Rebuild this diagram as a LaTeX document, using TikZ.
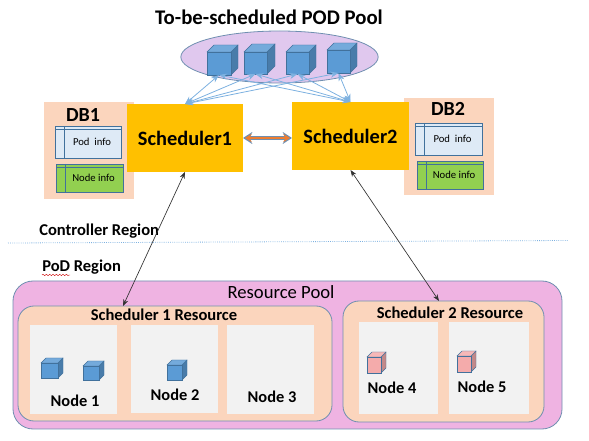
\documentclass[tikz,border=0pt]{standalone}
\usepackage{fontspec}
\setmainfont{Carlito}
\usepackage{tikz}
\usetikzlibrary{positioning,arrows.meta,calc,decorations.pathmorphing,shapes.geometric}
\definecolor{amber}{HTML}{FFC000}
\definecolor{peach}{HTML}{FBD5BD}
\definecolor{orchid}{HTML}{EFB3E2}
\definecolor{lilac}{HTML}{E0C8EE}
\definecolor{cubeblue}{HTML}{5B9BD5}
\definecolor{cubepink}{HTML}{F4ABAB}
\definecolor{paleblue}{HTML}{DEEAF6}
\definecolor{leaf}{HTML}{92D050}
\definecolor{slate}{HTML}{6F8FB0}
\definecolor{edgeblue}{HTML}{41719C}
\definecolor{linkblue}{HTML}{7DB1E0}
\definecolor{tray}{HTML}{F2F2F2}
\definecolor{linkorange}{HTML}{ED7D31}

\tikzset{
  lbl/.style={inner sep=0pt, font=\fontsize{#1}{#1}\selectfont\bfseries},
  boxat/.style={draw=none, inner sep=0pt, outer sep=0pt},
  table box/.style={draw=edgeblue, line width=0.6pt},
  podlink/.style={linkblue, line width=0.6pt, {Stealth[length=6pt]}-{Stealth[length=6pt]}},
  ctllink/.style={black!80, line width=0.5pt, {Stealth[length=5pt]}-{Stealth[length=5pt]}},
}

% box given by its two corners in pixels
\newcommand{\pxbox}[6]{\node[boxat, #6, anchor=north west, minimum width=#4 pt*0.75-#2 pt*0.75, minimum height=#5 pt*0.75-#3 pt*0.75] (#1) at (#2,#3) {};}
% cube: name, left, top of front, right, bottom, depth, colour
\newcommand{\podcube}[7]{
  \fill[#7!80!black, draw=edgeblue, line width=0.3pt] (#4,#3) -- ++(#6,-#6) -- ++(0,#5-#3) -- (#4,#5) -- cycle;
  \fill[#7!85!white, draw=edgeblue, line width=0.3pt] (#2,#3) -- ++(#6,-#6) -- ++(#4-#2,0) -- (#4,#3) -- cycle;
  \pxbox{#1}{#2}{#3}{#4}{#5}{fill=#7, draw=edgeblue, line width=0.5pt}
}
% table with a header row and a side column
\newcommand{\infotable}[7]{
  \pxbox{#1}{#2}{#3}{#4}{#5}{fill=#6, table box}
  \draw[edgeblue, line width=0.5pt] (#2+9,#3) -- (#2+9,#5);
  \draw[edgeblue, line width=0.5pt] (#2,#3+3.5) -- (#4,#3+3.5);
  \node[inner sep=0pt, font=\fontsize{8}{9}\selectfont] (#1text) at ($(#1)+(4,0)$) {#7};
}

\begin{document}
\begin{tikzpicture}[x=0.75pt,y=-0.75pt]
  \useasboundingbox (0,0) rectangle (589,441);

  % Title and pod pool
  \node[lbl=15.6] (title) at (269,17) {To-be-scheduled POD Pool};
  \node[ellipse, draw=slate, fill=lilac, line width=0.6pt, minimum width=148pt, minimum height=39pt, inner sep=0pt] (pool) at (279.5,57) {};
  \podcube{cubeA}{207}{52}{231}{75}{7}{cubeblue}
  \podcube{cubeB}{244}{52}{267}{74}{8}{cubeblue}
  \podcube{cubeC}{286}{52}{309}{74}{7}{cubeblue}
  \podcube{cubeD}{327}{50}{350}{73}{7}{cubeblue}

  % DB panels
  \pxbox{db1}{43.5}{102}{134}{199}{fill=peach}
  \pxbox{db2}{404}{98}{494}{195}{fill=peach}
  \node[lbl=15] (db1text) at (83,115) {DB1};
  \node[lbl=15] (db2text) at (448,109) {DB2};
  \infotable{pod1}{55}{126}{121}{158}{paleblue}{Pod\ \ info}
  \infotable{node1}{56}{164}{123}{192}{leaf}{Node info}
  \infotable{pod2}{415}{123}{482}{155}{paleblue}{Pod\ \ info}
  \infotable{node2}{417}{161}{483}{189}{leaf}{Node info}

  % Schedulers
  \pxbox{sched1}{127}{104}{243}{172}{fill=amber}
  \pxbox{sched2}{292}{102}{409}{170}{fill=amber}
  \node[lbl=15.3] at (sched1) (sched1text) {Scheduler1};
  \node[lbl=15.3] at (sched2) (sched2text) {Scheduler2};

  % Links to the pods
  \foreach \c in {cubeA,cubeB,cubeC,cubeD} {
    \draw[podlink] (sched1.north) -- (\c.south);
    \draw[podlink] (sched2.north) -- (\c.south);
  }

  % Link between schedulers
  \draw[slate, line width=3.4pt, {Stealth[length=7pt,width=9pt]}-{Stealth[length=7pt,width=9pt]}] (sched1.east) -- (sched1.east -| sched2.west);
  \draw[linkorange, line width=2pt, {Stealth[length=5pt,width=6pt]}-{Stealth[length=5pt,width=6pt]}] ($(sched1.east)+(2,0)$) -- ($(sched1.east -| sched2.west)+(-2,0)$);

  % Region split
  \coordinate (splitL) at (8,243);
  \coordinate (splitR) at (569,240.5);
  \draw[linkblue, line width=0.6pt, densely dotted] (splitL) -- (splitR);
  \node[lbl=12.4, anchor=west] (ctlregion) at (39,231) {Controller Region};
  \node[lbl=12.4, anchor=west] (podregion) at (42,267) {PoD Region};
  \draw[red!80!black, line width=0.3pt, decorate, decoration={snake, amplitude=0.5pt, segment length=2.5pt}] ($(podregion.south west)+(0,0.5)$) -- ++(28,0);

  % Resource pool
  \node[boxat, draw=slate, fill=orchid, line width=0.6pt, rounded corners=15pt, anchor=north west, minimum width=411.75pt, minimum height=111pt] (respool) at (13,281) {};
  \node[inner sep=0pt, font=\fontsize{14}{14}\selectfont] (respooltext) at (281,292) {Resource Pool};
  \node[boxat, draw=slate, fill=peach, line width=0.6pt, rounded corners=12pt, anchor=north west, minimum width=235.5pt, minimum height=86.25pt] (res1) at (18,306) {};
  \node[boxat, draw=slate, fill=peach, line width=0.6pt, rounded corners=12pt, anchor=north west, minimum width=150.75pt, minimum height=90.75pt] (res2) at (343,301) {};
  \node[lbl=12.4] (res1text) at (164,315) {Scheduler 1 Resource};
  \node[lbl=12.4] (res2text) at (450,313) {Scheduler 2 Resource};

  % Worker nodes
  \pxbox{workerA}{30}{325}{117}{414}{fill=tray}
  \pxbox{workerB}{131}{325}{218}{413}{fill=tray}
  \pxbox{workerC}{227}{325}{314}{414}{fill=tray}
  \pxbox{workerD}{359}{322}{438}{414}{fill=tray}
  \pxbox{workerE}{449}{322}{529}{414}{fill=tray}
  \node[lbl=12.3] (labelA) at (75,401) {Node 1};
  \node[lbl=12.3] (labelB) at (175,395) {Node 2};
  \node[lbl=12.3] (labelC) at (272,397) {Node 3};
  \node[lbl=12.3] (labelD) at (392,388) {Node 4};
  \node[lbl=12.3] (labelE) at (482,387) {Node 5};
  \podcube{podA}{41}{363}{58}{378}{5}{cubeblue}
  \podcube{podB}{83}{366}{99}{380}{5}{cubeblue}
  \podcube{podC}{167}{365}{182}{380}{5}{cubeblue}
  \podcube{podD}{367}{357}{381}{373}{5}{cubepink}
  \podcube{podE}{457}{356}{471}{372}{5}{cubepink}

  % Scheduler to resource links
  \coordinate (res1top) at (123,306);
  \coordinate (res2top) at (439,301);
  \draw[ctllink] (sched1.south) -- (res1top);
  \draw[ctllink] (sched2.south) -- (res2top);
\end{tikzpicture}
\end{document}
